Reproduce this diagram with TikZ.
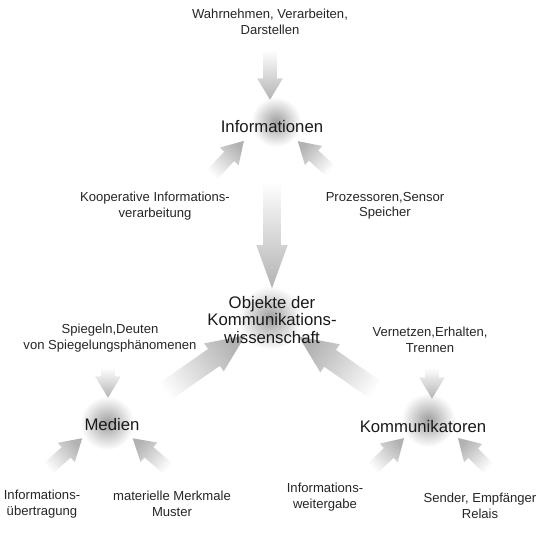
\documentclass[tikz,border=0pt]{standalone}
\usepackage{fontspec}
\setmainfont{Liberation Sans}
\usetikzlibrary{positioning,calc,shapes.arrows}
\pgfdeclarelayer{glowlayer}
\pgfdeclarelayer{arrowlayer}
\pgfsetlayers{glowlayer,arrowlayer,main}

% shaded block arrow between two points: style, name, tail, tip
\newcommand{\flowarrow}[4]{%
  \coordinate (#2-s) at #3;
  \coordinate (#2-e) at #4;
  \path let \p1=($(#2-e)-(#2-s)$), \n1={atan2(\y1,\x1)}, \n2={veclen(\x1,\y1)}, \n3={\n1-90} in
    node[#1, minimum height=\n2, rotate=\n1, shading angle=\n3]
      (#2) at ($(#2-s)!0.5!(#2-e)$) {};}

\begin{document}
\begin{tikzpicture}[x=0.025cm, y=-0.025cm,
    glow/.style={circle, inner sep=0pt, minimum size=#1, inner color=black!38, outer color=white},
    small/.style={font=\fontsize{9.3}{11}\selectfont, align=center, text=black!85},
    big/.style={font=\fontsize{11.9}{12.4}\selectfont, align=center, text=black!90},
    flow/.style={single arrow, inner xsep=0pt, draw=none, top color=black!30, middle color=black!24, bottom color=white},
    smallflow/.style={flow, inner ysep=0.165cm, single arrow head extend=0.15cm, single arrow tip angle=62},
    mainflow/.style={flow, inner ysep=0.215cm, single arrow head extend=0.17cm, single arrow tip angle=40},
    sideflow/.style={flow, inner ysep=0.25cm, single arrow head extend=0.17cm, single arrow tip angle=48}]
  \useasboundingbox (0,0) rectangle (540,540);
  % glows
  \begin{pgfonlayer}{glowlayer}
  \node[glow=1.25cm] (infoglow) at (276,122) {};
  \node[glow=1.6cm] (objglow) at (270,318) {};
  \node[glow=1.35cm] (medglow) at (107,423) {};
  \node[glow=1.35cm] (komglow) at (428,420) {};
  \end{pgfonlayer}
  % labels
  \node[small] (percep) at (270,22) {Wahrnehmen, Verarbeiten,\\Darstellen};
  \node[big] (info) at (272,127) {Informationen};
  \node[small] (coop) at (155,206) {Kooperative Informations-\\verarbeitung};
  \node[small] (proc) at (385,206) {Prozessoren,Sensor\\Speicher};
  \node[big] (obj) at (272,320) {Objekte der\\Kommunikations-\\wissenschaft};
  \node[small] (mirror) at (110,338) {Spiegeln,Deuten\\von Spiegelungsphänomenen};
  \node[big] (med) at (112,425) {Medien};
  \node[small] (trans) at (42,504) {Informations-\\übertragung};
  \node[small] (mat) at (172,504) {materielle Merkmale\\Muster};
  \node[small] (netz) at (430,340) {Vernetzen,Erhalten,\\Trennen};
  \node[big] (kom) at (423,427) {Kommunikatoren};
  \node[small] (pass) at (325,497) {Informations-\\weitergabe};
  \node[small] (relay) at (480,506) {Sender, Empfänger\\Relais};
  % arrows, behind the labels
  \begin{pgfonlayer}{arrowlayer}
  \flowarrow{smallflow}{a1}{($(percep)+(0,22)$)}{($(info)+(-2,-33)$)}
  \flowarrow{smallflow}{a2}{($(coop)+(52,-26)$)}{($(info)+(-32,18)$)}
  \flowarrow{smallflow}{a3}{($(proc)+(-50,-31)$)}{($(info)+(30,18)$)}
  \flowarrow{mainflow}{a4}{($(info)+(0,42)$)}{($(obj)+(0,-44)$)}
  \flowarrow{smallflow}{a5}{($(mirror)+(-2,24)$)}{($(med)+(-4,-33)$)}
  \flowarrow{sideflow}{a6}{($(med)+(38,-23)$)}{($(obj)+(-36,22)$)}
  \flowarrow{smallflow}{a7}{($(trans)+(1,-31)$)}{($(med)+(-34,17)$)}
  \flowarrow{smallflow}{a8}{($(mat)+(1,-31)$)}{($(med)+(25,17)$)}
  \flowarrow{smallflow}{a9}{($(netz)+(2,22)$)}{($(kom)+(9,-34)$)}
  \flowarrow{sideflow}{a10}{($(kom)+(-33,-27)$)}{($(obj)+(36,23)$)}
  \flowarrow{smallflow}{a11}{($(pass)+(43,-24)$)}{($(kom)+(-23,15)$)}
  \flowarrow{smallflow}{a12}{($(relay)+(13,-33)$)}{($(kom)+(39,15)$)}
  \end{pgfonlayer}
\end{tikzpicture}
\end{document}
